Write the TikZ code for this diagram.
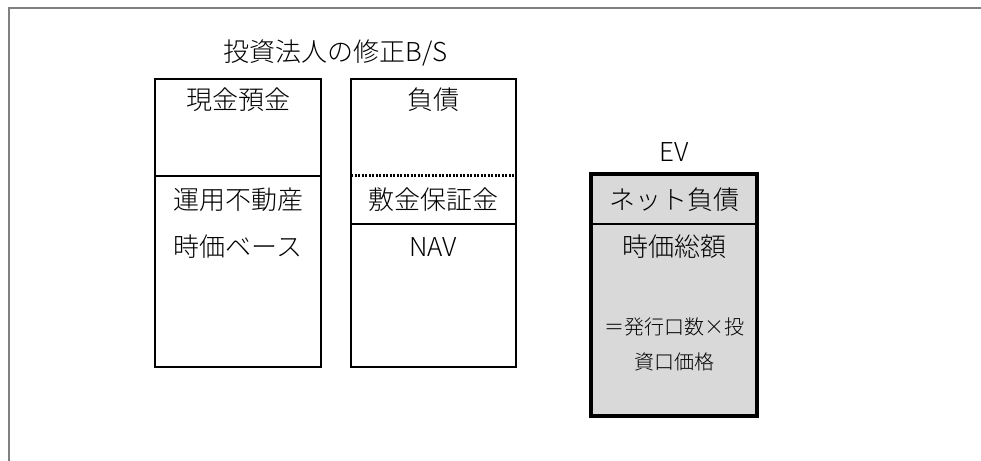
\documentclass[tikz,border=0pt]{standalone}
\usepackage{fontspec}
\setmainfont{Noto Sans CJK JP}[UprightFont=* Light]
\begin{document}
\begin{tikzpicture}[x=1bp,y=-1bp,
  sheet/.style={draw=black,line width=2.4bp},
  evsheet/.style={draw=black,fill=evgray,line width=4.5bp},
  lbl/.style={inner sep=0pt,font=\fontsize{26bp}{30bp}\selectfont},
  small/.style={inner sep=0pt,font=\fontsize{20bp}{24bp}\selectfont}]
\definecolor{evgray}{HTML}{D9D9D9}
\useasboundingbox (0,0) rectangle (981,461);
% frame
\draw[gray,line width=2bp] (8.5,470) -- (8.5,8.5) -- (990,8.5);
% title
\node[lbl] (title) at (336,53) {投資法人の修正B/S};
% assets
\draw[sheet] (155,79) rectangle (321,367);
\draw[sheet] (155,176) -- (321,176);
\node[lbl] (cash) at (238,100) {現金預金};
\node[lbl] (prop) at (238,200) {運用不動産};
\node[lbl] (base) at (238,247) {時価ベース};
% liabilities
\draw[sheet] (351,79) rectangle (516,367);
\draw[black,line width=3bp,dash pattern=on 2bp off 1.5bp] (351,176) -- (516,176);
\draw[sheet] (351,224) -- (516,224);
\node[lbl] (debt) at (433,100) {負債};
\node[lbl] (dep) at (433,200) {敷金保証金};
\node[lbl] (nav) at (433,247) {NAV};
% EV
\node[lbl] (ev) at (674,152) {EV};
\draw[evsheet] (591,174) rectangle (757,416);
\draw[black,line width=2.4bp] (591,224) -- (757,224);
\node[lbl] (net) at (674,200) {ネット負債};
\node[lbl] (mcap) at (674,247) {時価総額};
\node[small] (f1) at (674,327) {＝発行口数×投};
\node[small] (f2) at (674,362) {資口価格};
\end{tikzpicture}
\end{document}
